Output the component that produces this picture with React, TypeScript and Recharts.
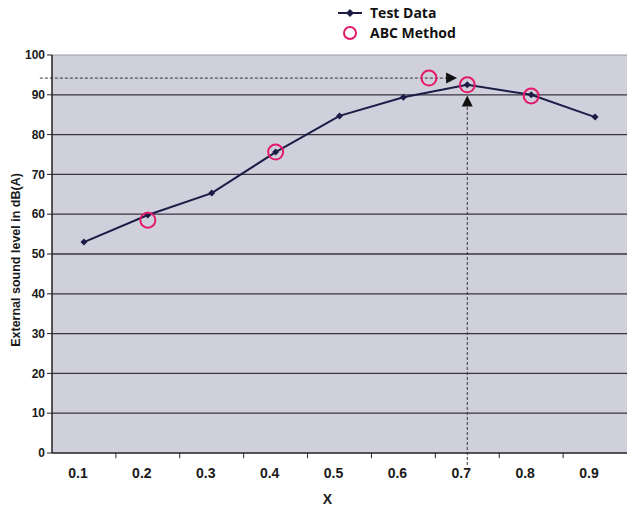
import {
  ComposedChart,
  Line,
  Scatter,
  XAxis,
  YAxis,
  CartesianGrid,
  ReferenceLine,
  ReferenceDot,
} from 'recharts'

// Test data (line with diamond markers)
const testX = [0.1, 0.2, 0.3, 0.4, 0.5, 0.6, 0.7, 0.8, 0.9]
const testY = [53.0, 59.8, 65.3, 75.6, 84.7, 89.4, 92.5, 90.0, 84.4]

// ABC method (open circles)
const abcX = [0.2, 0.4, 0.64, 0.7, 0.8]
const abcY = [58.5, 75.6, 94.2, 92.5, 89.7]

const xTicks = [0.1, 0.2, 0.3, 0.4, 0.5, 0.6, 0.7, 0.8, 0.9]
const xTickMarks = [0.15, 0.25, 0.35, 0.45, 0.55, 0.65, 0.75, 0.85]
const yTicks = [0, 10, 20, 30, 40, 50, 60, 70, 80, 90, 100]
const gridValues = [10, 20, 30, 40, 50, 60, 70, 80, 90]

// annotation arrows
const hArrow = { x1: 0.031, x2: 0.675, y: 94.2, tip: 0.684 }
const vArrow = { x: 0.7, y1: -3, y2: 87.6, tip: 89.8 }

const testData = testX.map((x, i) => ({ x, y: testY[i] }))
const abcData = abcX.map((x, i) => ({ x, y: abcY[i] }))

const LINE = '#1d1c46'
const PINK = '#e4196a'
const font = '"Liberation Sans", Arial, sans-serif'

const Diamond = (props: any) => {
  const { cx, cy } = props
  if (cx == null || cy == null) return null
  const r = 3.5
  return (
    <path
      d={`M${cx},${cy - r}L${cx + r},${cy}L${cx},${cy + r}L${cx - r},${cy}Z`}
      fill={LINE}
    />
  )
}

const Ring = (props: any) => {
  const { cx, cy } = props
  return <circle cx={cx} cy={cy} r={7.5} fill="none" stroke={PINK} strokeWidth={2} />
}

const ArrowRight = (props: any) => {
  const { cx, cy } = props
  return <path d={`M${cx},${cy}L${cx - 11},${cy - 5.5}L${cx - 11},${cy + 5.5}Z`} fill="#111" />
}

const ArrowUp = (props: any) => {
  const { cx, cy } = props
  return <path d={`M${cx},${cy}L${cx - 5.5},${cy + 11}L${cx + 5.5},${cy + 11}Z`} fill="#111" />
}

const XTick = (props: any) => {
  const { x, y, payload } = props
  return (
    <text x={x - 6} y={y + 17} textAnchor="middle" fontFamily={font} fontWeight="bold" fontSize={14} fill="#1a1a1a">
      {payload.value.toFixed(1)}
    </text>
  )
}

function LegendBox() {
  return (
    <div
      style={{
        position: 'absolute',
        left: 336,
        top: 3,
        fontFamily: '"Open Sans", sans-serif',
        fontWeight: 700,
        fontSize: 14,
        color: '#111',
        lineHeight: '20px',
      }}
    >
      <div style={{ display: 'flex', alignItems: 'center' }}>
        <svg width={30} height={20}>
          <line x1={2} y1={10} x2={26} y2={10} stroke={LINE} strokeWidth={2} />
          <path d="M14,6L18,10L14,14L10,10Z" fill={LINE} />
        </svg>
        <span style={{ marginLeft: 4 }}>Test Data</span>
      </div>
      <div style={{ display: 'flex', alignItems: 'center' }}>
        <svg width={30} height={20}>
          <circle cx={14} cy={10} r={6} fill="none" stroke={PINK} strokeWidth={2} />
        </svg>
        <span style={{ marginLeft: 4 }}>ABC Method</span>
      </div>
    </div>
  )
}

export default function App() {
  return (
    <div style={{ position: 'absolute', left: 0, top: 0, width: 627, height: 506, background: '#fff' }}>
      <ComposedChart
        width={627}
        height={506}
        margin={{ top: 55, right: 0, left: 0, bottom: 0 }}
      >
        <CartesianGrid
          vertical={false}
          horizontalValues={gridValues}
          stroke="#3a3340"
          strokeWidth={1.3}
          fill="#d0d0dd"
          fillOpacity={1}
        />
        <XAxis
          dataKey="x"
          type="number"
          domain={[0.05, 0.95]}
          ticks={xTicks}
          tick={<XTick />}
          tickLine={false}
          axisLine={{ stroke: '#222', strokeWidth: 1.5 }}
          height={53}
          interval={0}
          allowDataOverflow
          label={{
            value: 'X',
            position: 'insideBottom',
            offset: 2,
            dx: -12,
            style: { fontFamily: font, fontWeight: 'bold', fontSize: 14, fill: '#1a1a1a' },
          }}
        />
        <YAxis
          type="number"
          domain={[0, 100]}
          ticks={yTicks}
          interval={0}
          width={52}
          tickSize={5}
          tickLine={{ stroke: '#222' }}
          axisLine={{ stroke: '#222', strokeWidth: 1.5 }}
          tick={{ fontFamily: font, fontWeight: 'bold', fontSize: 12, fill: '#1a1a1a' }}
          label={{
            value: 'External sound level in dB(A)',
            angle: -90,
            position: 'insideLeft',
            offset: 16,
            dy: 6,
            style: { textAnchor: 'middle', fontFamily: font, fontWeight: 'bold', fontSize: 12.5, fill: '#1a1a1a' },
          }}
        />
        <ReferenceLine y={100} stroke="#9a9aa6" strokeWidth={1} />
        {xTickMarks.map((t) => (
          <ReferenceLine
            key={t}
            segment={[{ x: t, y: 0 }, { x: t, y: -1.3 }]}
            stroke="#222"
            ifOverflow="visible"
          />
        ))}
        <ReferenceLine
          segment={[{ x: hArrow.x1, y: hArrow.y }, { x: hArrow.x2, y: hArrow.y }]}
          stroke="#333"
          strokeDasharray="3 2"
          ifOverflow="visible"
        />
        <ReferenceLine
          segment={[{ x: vArrow.x, y: vArrow.y1 }, { x: vArrow.x, y: vArrow.y2 }]}
          stroke="#333"
          strokeDasharray="3 2"
          ifOverflow="visible"
        />
        <ReferenceDot x={hArrow.tip} y={hArrow.y} shape={<ArrowRight />} ifOverflow="visible" />
        <ReferenceDot x={vArrow.x} y={vArrow.tip} shape={<ArrowUp />} ifOverflow="visible" />
        <Line
          data={testData}
          dataKey="y"
          type="linear"
          stroke={LINE}
          strokeWidth={2}
          dot={<Diamond />}
          activeDot={false}
          isAnimationActive={false}
        />
        <Scatter data={abcData} dataKey="y" shape={<Ring />} isAnimationActive={false} />
      </ComposedChart>
      <LegendBox />
    </div>
  )
}
